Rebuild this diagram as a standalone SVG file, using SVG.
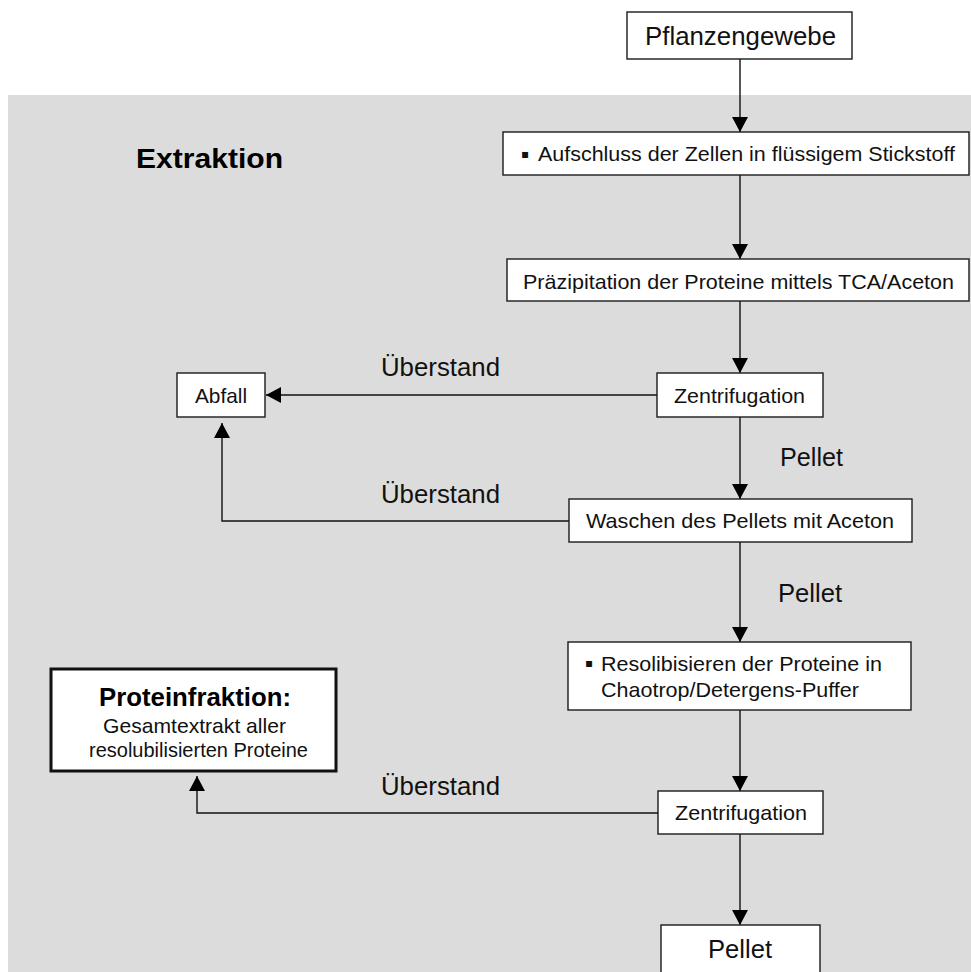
<svg xmlns="http://www.w3.org/2000/svg" width="971" height="972" viewBox="0 0 971 972">
<style>
.box{fill:#fff;stroke:#1a1a1a;stroke-width:1.4}
.thick{fill:#fff;stroke:#111;stroke-width:3}
.t{font-family:"Liberation Sans",Arial,sans-serif;fill:#111}
.bl{font-family:"DejaVu Sans",sans-serif;fill:#111;font-size:12px}
.b{font-family:"Liberation Sans",Arial,sans-serif;font-weight:bold;fill:#000}
.ln{fill:none;stroke:#111;stroke-width:1.4}
</style>
<defs>
<marker id="ah" markerUnits="userSpaceOnUse" markerWidth="16" markerHeight="16" refX="15" refY="8" orient="auto">
<path d="M0,0 L15,8 L0,16 z" fill="#000"/>
</marker>
</defs>
<rect x="0" y="0" width="971" height="972" fill="#fff"/>
<rect x="8" y="95" width="963" height="877" fill="#dcdcdc"/>
<text class="b" x="136" y="168" font-size="28" textLength="147" lengthAdjust="spacingAndGlyphs">Extraktion</text>

<g id="connectors">
<line class="ln" x1="740" y1="59" x2="740" y2="132" marker-end="url(#ah)"/>
<line class="ln" x1="740" y1="175" x2="740" y2="259" marker-end="url(#ah)"/>
<line class="ln" x1="740" y1="301" x2="740" y2="373" marker-end="url(#ah)"/>
<line class="ln" x1="657" y1="395" x2="266" y2="395" marker-end="url(#ah)"/>
<line class="ln" x1="740" y1="417" x2="740" y2="499" marker-end="url(#ah)"/>
<polyline class="ln" points="569,521 222,521 222,423" marker-end="url(#ah)"/>
<line class="ln" x1="740" y1="542" x2="740" y2="642" marker-end="url(#ah)"/>
<line class="ln" x1="740" y1="710" x2="740" y2="791" marker-end="url(#ah)"/>
<polyline class="ln" points="658,813 197,813 197,776" marker-end="url(#ah)"/>
<line class="ln" x1="740" y1="834" x2="740" y2="925" marker-end="url(#ah)"/>
<text class="t" x="381" y="376" font-size="26" textLength="119" lengthAdjust="spacingAndGlyphs">Überstand</text>
<text class="t" x="381" y="503" font-size="26" textLength="119" lengthAdjust="spacingAndGlyphs">Überstand</text>
<text class="t" x="381" y="795" font-size="26" textLength="119" lengthAdjust="spacingAndGlyphs">Überstand</text>
<text class="t" x="780" y="466" font-size="26" textLength="63" lengthAdjust="spacingAndGlyphs">Pellet</text>
<text class="t" x="778" y="602" font-size="26" textLength="64" lengthAdjust="spacingAndGlyphs">Pellet</text>
</g>

<g id="pflanzengewebe">
<rect class="box" x="627" y="12" width="225" height="47"/>
<text class="t" x="645" y="45" font-size="26" textLength="191" lengthAdjust="spacingAndGlyphs">Pflanzengewebe</text>
</g>

<g id="aufschluss">
<rect class="box" x="503" y="132" width="466" height="43"/>
<text class="bl" x="521" y="158">▪</text>
<text class="t" x="538" y="161" font-size="21" textLength="417" lengthAdjust="spacingAndGlyphs">Aufschluss der Zellen in flüssigem Stickstoff</text>
</g>

<g id="praezipitation">
<rect class="box" x="507" y="259" width="462" height="42"/>
<text class="t" x="523" y="289" font-size="21" textLength="431" lengthAdjust="spacingAndGlyphs">Präzipitation der Proteine mittels TCA/Aceton</text>
</g>

<g id="zentrifugation1">
<rect class="box" x="657" y="373" width="166" height="44"/>
<text class="t" x="674" y="403" font-size="21" textLength="131" lengthAdjust="spacingAndGlyphs">Zentrifugation</text>
</g>

<g id="abfall">
<rect class="box" x="177" y="373" width="88" height="44"/>
<text class="t" x="195" y="403" font-size="21" textLength="52" lengthAdjust="spacingAndGlyphs">Abfall</text>
</g>

<g id="waschen">
<rect class="box" x="569" y="499" width="343" height="43"/>
<text class="t" x="586" y="528" font-size="21" textLength="308" lengthAdjust="spacingAndGlyphs">Waschen des Pellets mit Aceton</text>
</g>

<g id="resolubilisieren">
<rect class="box" x="568" y="642" width="343" height="68"/>
<text class="bl" x="585" y="667">▪</text>
<text class="t" x="601" y="671" font-size="21" textLength="281" lengthAdjust="spacingAndGlyphs">Resolibisieren der Proteine in</text>
<text class="t" x="601" y="697" font-size="21" textLength="258" lengthAdjust="spacingAndGlyphs">Chaotrop/Detergens-Puffer</text>
</g>

<g id="zentrifugation2">
<rect class="box" x="658" y="791" width="165" height="43"/>
<text class="t" x="675" y="820" font-size="21" textLength="132" lengthAdjust="spacingAndGlyphs">Zentrifugation</text>
</g>

<g id="pellet">
<rect class="box" x="661" y="925" width="159" height="60"/>
<text class="t" x="708" y="958" font-size="26" textLength="64" lengthAdjust="spacingAndGlyphs">Pellet</text>
</g>

<g id="proteinfraktion">
<rect class="thick" x="51" y="669" width="285" height="102"/>
<text class="b" x="99" y="706" font-size="25" textLength="192" lengthAdjust="spacingAndGlyphs">Proteinfraktion:</text>
<text class="t" x="103" y="733" font-size="21" textLength="183" lengthAdjust="spacingAndGlyphs">Gesamtextrakt aller</text>
<text class="t" x="89" y="757" font-size="21" textLength="219" lengthAdjust="spacingAndGlyphs">resolubilisierten Proteine</text>
</g>
</svg>
